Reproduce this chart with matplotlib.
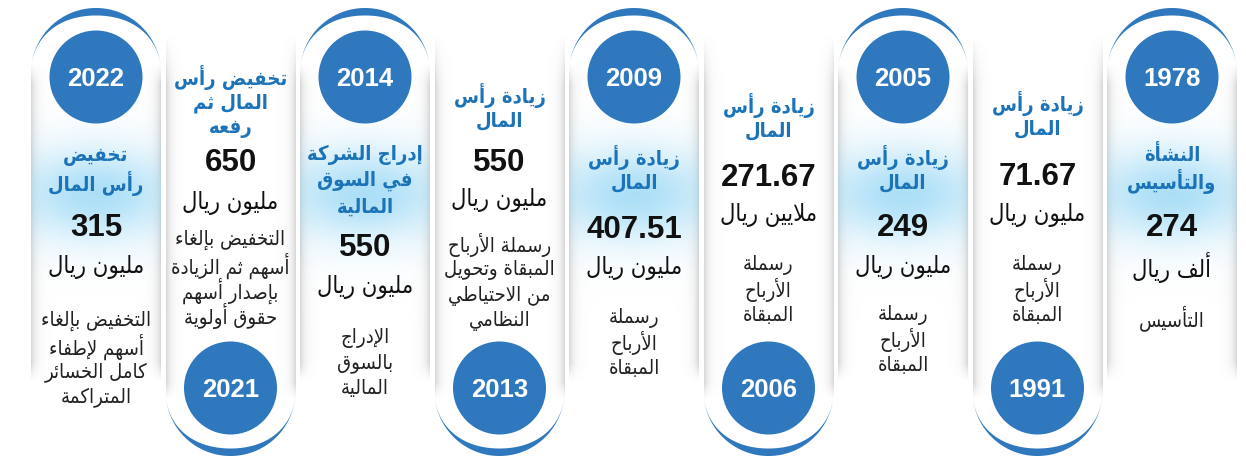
import numpy as np
import matplotlib.pyplot as plt
from matplotlib.patches import Circle, Polygon

# timeline data, right to left as in the picture
years = ['1978', '1991', '2005', '2006', '2009', '2013', '2014', '2021', '2022']
titles = [
    ['النشأة', 'والتأسيس'],
    ['زيادة رأس', 'المال'],
    ['زيادة رأس', 'المال'],
    ['زيادة رأس', 'المال'],
    ['زيادة رأس', 'المال'],
    ['زيادة رأس', 'المال'],
    ['إدراج الشركة', 'في السوق', 'المالية'],
    ['تخفيض رأس', 'المال ثم', 'رفعه'],
    ['تخفيض', 'رأس المال'],
]
values = ['274', '71.67', '249', '271.67', '407.51', '550', '550', '650', '315']
units = ['ألف ريال', 'مليون ريال', 'مليون ريال', 'ملايين ريال', 'مليون ريال',
         'مليون ريال', 'مليون ريال', 'مليون ريال', 'مليون ريال']
notes = [
    ['التأسيس'],
    ['رسملة', 'الأرباح', 'المبقاة'],
    ['رسملة', 'الأرباح', 'المبقاة'],
    ['رسملة', 'الأرباح', 'المبقاة'],
    ['رسملة', 'الأرباح', 'المبقاة'],
    ['رسملة الأرباح', 'المبقاة وتحويل', 'من الاحتياطي', 'النظامي'],
    ['الإدراج', 'بالسوق', 'المالية'],
    ['التخفيض بإلغاء', 'أسهم ثم الزيادة', 'بإصدار أسهم', 'حقوق أولوية'],
    ['التخفيض بإلغاء', 'أسهم لإطفاء', 'كامل الخسائر', 'المتراكمة'],
]

# layout (pixels from the top)
title_y = [155, 103, 157, 105, 157, 95, 155, 77, 157]
value_y = [228, 177, 228, 178, 230, 163, 248, 163, 228]
unit_y = [268, 215, 267, 215, 268, 200, 287, 203, 267]
note_y = [318, 265, 315, 265, 318, 245, 338, 240, 321]

BLUE = '#2f78bd'
TBLUE = '#1c73b8'

# --- tiny arabic shaper (presentation forms + reversed for RTL) ---
letters = 'ءآأؤإئابةتثجحخدذرزسشصضطظعغفقكلمنهوىي'
counts = [1, 2, 2, 2, 2, 4, 2, 4, 2, 4, 4, 4, 4, 4, 2, 2, 2, 2,
          4, 4, 4, 4, 4, 4, 4, 4, 4, 4, 4, 4, 4, 4, 4, 2, 2, 4]
FORMS = {}
code = 0xFE80
for ch, n in zip(letters, counts):
    FORMS[ch] = [chr(code + k) for k in range(n)]
    code += n
LAMALEF = {'آ': 0xFEF5, 'أ': 0xFEF7, 'إ': 0xFEF9, 'ا': 0xFEFB}


def shape(text):
    out = []
    prev_join = False
    i = 0
    while i < len(text):
        c = text[i]
        if c not in FORMS:
            out.append(c)
            prev_join = False
            i += 1
            continue
        nxt = text[i + 1] if i + 1 < len(text) else None
        if c == 'ل' and nxt in LAMALEF:
            out.append(chr(LAMALEF[nxt] + (1 if prev_join else 0)))
            prev_join = False
            i += 2
            continue
        f = FORMS[c]
        can_next = len(f) == 4 and nxt in FORMS and nxt != 'ء'
        if len(f) == 1:
            g = f[0]
        elif prev_join and can_next:
            g = f[3]
        elif prev_join:
            g = f[1]
        elif can_next:
            g = f[2]
        else:
            g = f[0]
        out.append(g)
        prev_join = can_next
        i += 1
    return ''.join(out)[::-1]


fig = plt.figure(figsize=(12.46, 4.6), dpi=100)
ax = fig.add_axes([0, 0, 1, 1])
ax.set_xlim(0, 1246)
ax.set_ylim(460, 0)
ax.axis('off')

R = 65
for i, yr in enumerate(years):
    cx = 1172 - i * 134.5
    top = (i % 2 == 0)
    # pill shading image
    y0, y1 = (9, 382) if top else (36, 457)
    w, h = 2 * R, y1 - y0
    xs = np.arange(w) + 0.5 - R
    ys = np.arange(h) + 0.5 + y0
    X, Y = np.meshgrid(xs, ys)
    d = R - np.abs(X)
    if top:
        vfade = np.clip((Y - 64) / 22, 0, 1) * np.clip((382 - Y) / 18, 0, 1)
    else:
        vfade = np.clip((Y - 36) / 50, 0, 1) * np.clip((400 - Y) / 16, 0, 1)
    ga = 0.42 * np.exp(-d / 4.5) * vfade
    img = np.ones((h, w, 4))
    img[..., :3] = 0.6
    img[..., 3] = ga
    if top:
        glow = 0.72 * np.exp(-((Y - 195) / 46) ** 2) * np.exp(-(X / 85) ** 2)
        col = np.array([0.55, 0.83, 0.96])
        a_tot = glow + ga * (1 - glow)
        rgb = (col * glow[..., None] + 0.6 * ga[..., None] * (1 - glow[..., None])) / np.maximum(a_tot, 1e-6)[..., None]
        img[..., :3] = rgb
        img[..., 3] = a_tot
    ax.imshow(img, extent=(cx - R, cx + R, y1, y0), origin='upper',
              interpolation='bilinear', zorder=1)

    # blue crescent edge, thick in the middle and thin at the sides
    t = np.linspace(-0.03, np.pi + 0.03, 160)
    thick = 7.5 * np.clip(np.sin(t), 0, 1) ** 3
    sgn = -1 if top else 1
    cy = 74 if top else 392
    outer = np.c_[cx + R * np.cos(t), cy + sgn * R * np.sin(t)]
    ri = R - thick
    inner = np.c_[cx + ri * np.cos(t), cy + sgn * ri * np.sin(t)][::-1]
    ax.add_patch(Polygon(np.r_[outer, inner], closed=True, fc=BLUE, ec='none', zorder=2))

    cc = 78 if top else 389
    ax.add_patch(Circle((cx, cc), 46.5, fc=BLUE, ec='none', zorder=3))
    ax.text(cx, cc + 1, yr, color='white', fontsize=18.5, fontweight='bold',
            family='Liberation Sans', ha='center', va='center', zorder=4)

    for k, line in enumerate(titles[i]):
        ax.text(cx, title_y[i] + k * 26, shape(line), color=TBLUE, fontsize=14.5,
                fontweight='bold', fontstretch='condensed', family='DejaVu Sans',
                ha='center', va='center', zorder=4)
    ax.text(cx, value_y[i], values[i], color='#111111', fontsize=22.5, fontweight='bold',
            family='Liberation Sans', ha='center', va='center', zorder=4)
    ax.text(cx, unit_y[i], shape(units[i]), color='#111111', fontsize=17,
            fontstretch='condensed', family='DejaVu Sans', ha='center', va='center', zorder=4)
    for k, line in enumerate(notes[i]):
        ax.text(cx, note_y[i] + k * 25.5, shape(line), color='#222222', fontsize=14.5,
                fontstretch='condensed', family='DejaVu Sans', ha='center', va='center', zorder=4)

fig.savefig('out.png', dpi=100, facecolor='white')
